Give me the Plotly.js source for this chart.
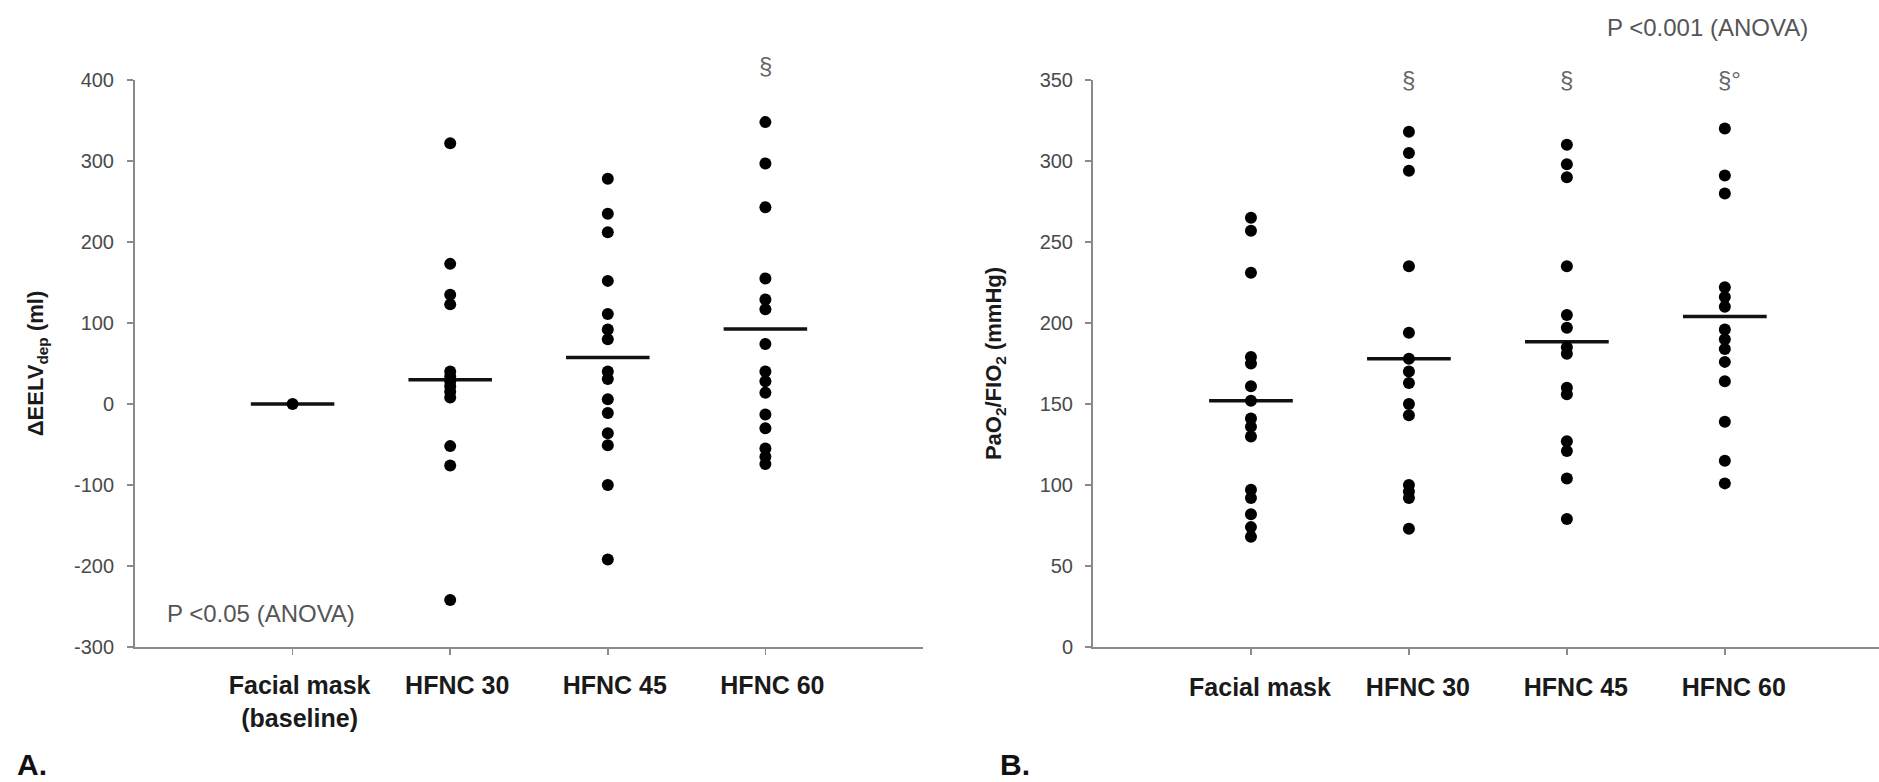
<!DOCTYPE html>
<html><head><meta charset="utf-8">
<script src="https://cdn.plot.ly/plotly-3.0.1.min.js"></script>
<style>html,body{margin:0;padding:0;background:#fff;} #chart{width:1879px;height:782px;}</style>
</head><body><div id="chart"></div>
<script>
// ---- data ----
const categoriesA = ["Facial mask<br>(baseline)", "HFNC 30", "HFNC 45", "HFNC 60"];
const categoriesB = ["Facial mask", "HFNC 30", "HFNC 45", "HFNC 60"];
const yTicksA = [-300, -200, -100, 0, 100, 200, 300, 400];
const yTickLabelsA = ["-300", "-200", "-100", "0", "100", "200", "300", "400"];
const yTicksB = [0, 50, 100, 150, 200, 250, 300, 350];

const eelvFacialMask = [0];
const eelvHFNC30 = [322, 173, 135, 123, 40, 34, 28, 22, 15, 8, -52, -76, -242];
const eelvHFNC45 = [278, 235, 212, 152, 111, 92, 80, 40, 31, 6, -11, -36, -51, -100, -192];
const eelvHFNC60 = [348, 297, 243, 155, 129, 117, 74, 40, 28, 14, -13, -30, -55, -65, -74];
const eelvMeans = [0, 30, 57.5, 92.5];

const pfFacialMask = [265, 257, 231, 179, 175, 161, 152, 141, 136, 130, 97, 92, 82, 74, 68];
const pfHFNC30 = [318, 305, 294, 235, 194, 178, 170, 163, 150, 143, 100, 96, 92, 73];
const pfHFNC45 = [310, 298, 290, 235, 205, 197, 185, 181, 160, 156, 127, 121, 104, 79];
const pfHFNC60 = [320, 291, 280, 222, 216, 210, 196, 190, 184, 176, 164, 139, 115, 101];
const pfMeans = [152, 178, 188.5, 204];

const marksA = ["", "", "", "§"];
const marksB = ["", "§", "§", "§°"];

// ---- build traces ----
const FONT = "Liberation Sans, Arial, Helvetica, sans-serif";
const W = 1879, H = 782;

function dotTrace(groups, xa, ya) {
  const x = [], y = [];
  groups.forEach((g, i) => g.forEach(v => { x.push(i); y.push(v); }));
  return {type: "scatter", mode: "markers", x: x, y: y, xaxis: xa, yaxis: ya,
          marker: {color: "#000", size: 12, line: {width: 0}},
          hoverinfo: "y", showlegend: false};
}
function meanTrace(means, xa, ya) {
  const half = 0.265, x = [], y = [];
  means.forEach((m, i) => { x.push(i - half, i + half, null); y.push(m, m, null); });
  return {type: "scatter", mode: "lines", x: x, y: y, xaxis: xa, yaxis: ya,
          line: {color: "#111", width: 3.5}, hoverinfo: "skip", showlegend: false};
}

const traces = [
  meanTrace(eelvMeans, "x", "y"),
  dotTrace([eelvFacialMask, eelvHFNC30, eelvHFNC45, eelvHFNC60], "x", "y"),
  meanTrace(pfMeans, "x2", "y2"),
  dotTrace([pfFacialMask, pfHFNC30, pfHFNC45, pfHFNC60], "x2", "y2")
];

const yDom = [1 - 647 / H, 1 - 80 / H];
const axisLine = {showline: true, linecolor: "#8a8a8a", linewidth: 2, ticks: "outside",
                  ticklen: 6, tickwidth: 1.5, tickcolor: "#8a8a8a", showgrid: false,
                  zeroline: false, fixedrange: true};
const xTickFont = {family: FONT, size: 25, color: "#1a1a1a", weight: "bold"};
const yTickFont = {family: FONT, size: 20, color: "#4a4a4a"};

const layout = {
  width: W, height: H,
  margin: {l: 0, r: 0, t: 0, b: 0},
  paper_bgcolor: "#fff", plot_bgcolor: "#fff",
  font: {family: FONT},
  xaxis: Object.assign({}, axisLine, {domain: [135 / W, 923 / W], range: [-1, 4],
          tickvals: [0, 1, 2, 3], ticktext: categoriesA, tickfont: xTickFont,
          ticklabelstandoff: 9, ticklabelshift: 7, anchor: "y"}),
  yaxis: Object.assign({}, axisLine, {domain: yDom, range: [-300, 400],
          tickvals: yTicksA, ticktext: yTickLabelsA, tickfont: yTickFont, ticklabelstandoff: 9, anchor: "x",
          title: {text: "<b>ΔEELV<sub>dep</sub> (ml)</b>", standoff: 24,
                  font: {family: FONT, size: 22, color: "#1a1a1a"}}}),
  xaxis2: Object.assign({}, axisLine, {domain: [1093 / W, 1], range: [-1, 3.976],
          tickvals: [0, 1, 2, 3], ticktext: categoriesB, tickfont: xTickFont,
          ticklabelstandoff: 11, ticklabelshift: 9, anchor: "y2"}),
  yaxis2: Object.assign({}, axisLine, {domain: yDom, range: [0, 350],
          tickvals: yTicksB, tickfont: yTickFont, ticklabelstandoff: 8, anchor: "x2",
          title: {text: "<b>PaO<sub>2</sub>/FIO<sub>2</sub> (mmHg)</b>", standoff: 32,
                  font: {family: FONT, size: 22, color: "#1a1a1a"}}}),
  annotations: []
};

const markFont = {family: FONT, size: 24, color: "#666"};
marksA.forEach((t, i) => { if (t) layout.annotations.push({x: i, xref: "x", y: 1 - 65 / H, yref: "paper",
  text: t, showarrow: false, font: markFont, xanchor: "center", yanchor: "middle"}); });
marksB.forEach((t, i) => { if (t) layout.annotations.push({x: i, xref: "x2", y: 1 - 80 / H, yref: "paper",
  text: t, showarrow: false, font: markFont, xanchor: t.length > 1 ? "left" : "center",
  xshift: t.length > 1 ? -9 : 0, yanchor: "middle"}); });
layout.annotations.push(
  {x: 261 / W, y: 1 - 613 / H, xref: "paper", yref: "paper", text: "P <0.05 (ANOVA)", showarrow: false,
   font: {family: FONT, size: 24, color: "#555"}, xanchor: "center", yanchor: "middle"},
  {x: 1707 / W, y: 1 - 28 / H, xref: "paper", yref: "paper", text: "P <0.001 (ANOVA)", showarrow: false,
   font: {family: FONT, size: 24, color: "#555"}, xanchor: "center", yanchor: "middle"},
  {x: 15 / W, y: 1 - 764 / H, xref: "paper", yref: "paper", text: "<b>A.</b>", showarrow: false,
   font: {family: FONT, size: 30, color: "#111"}, xanchor: "left", yanchor: "middle"},
  {x: 998 / W, y: 1 - 764 / H, xref: "paper", yref: "paper", text: "<b>B.</b>", showarrow: false,
   font: {family: FONT, size: 30, color: "#111"}, xanchor: "left", yanchor: "middle"}
);

Plotly.newPlot("chart", traces, layout, {displayModeBar: false, staticPlot: true});
</script></body></html>
